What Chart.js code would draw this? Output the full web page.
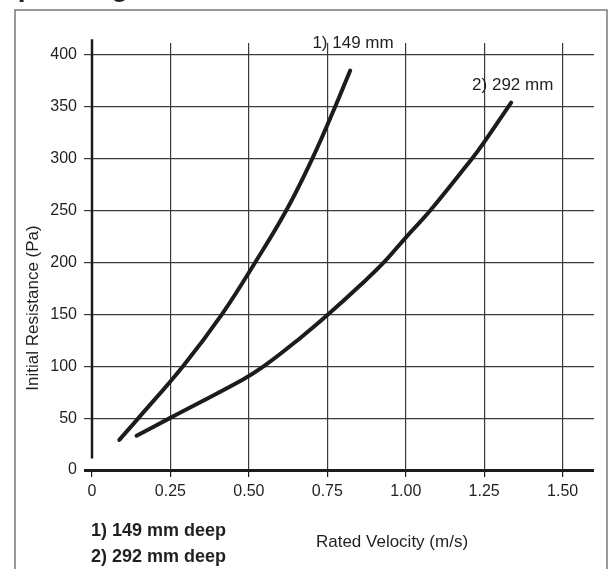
<!DOCTYPE html>
<html>
<head>
<meta charset="utf-8">
<script src="https://cdn.jsdelivr.net/npm/chart.js@4"></script>
<style>html,body{margin:0;padding:0;background:#fff}canvas{display:block}</style>
</head>
<body>
<canvas id="c" width="609" height="569"></canvas>
<script>
// ticks
const xTicks = [0, 0.25, 0.5, 0.75, 1, 1.25, 1.5];
const xTickLabels = ["0", "0.25", "0.50", "0.75", "1.00", "1.25", "1.50"];
const yTicks = [0, 50, 100, 150, 200, 250, 300, 350, 400];

// 1) 149 mm deep
const v149 = [0.087, 0.148, 0.29, 0.414, 0.52, 0.619, 0.702, 0.775, 0.823];
const p149 = [29, 50, 100, 150, 200, 250, 300, 350, 385];
// 2) 292 mm deep
const v292 = [0.142, 0.248, 0.48, 0.548, 0.663, 0.753, 0.855, 0.93, 1.0, 1.078, 1.211, 1.25, 1.336];
const p292 = [33, 50, 87, 100, 127, 150, 178, 200, 224, 250, 300, 316, 354];

const curveNames = ["1) 149 mm", "2) 292 mm"];
const curveNameAt = [[0.832, 411], [1.341, 371]];
const legendLines = ["1) 149 mm deep", "2) 292 mm deep"];
const xTitle = "Rated Velocity (m/s)";
const yTitle = "Initial Resistance (Pa)";
const heading = "Operating";

const INK = "#231f20", FONT = "'Liberation Sans', Arial, Helvetica, sans-serif";
const pts = (xs, ys) => xs.map((x, i) => ({ x, y: ys[i] }));
const line = (data) => ({ data, showLine: true, borderColor: "#1c1c1c", borderWidth: 4, pointRadius: 0,
  tension: 0.4, borderCapStyle: "round", borderJoinStyle: "round", fill: false });

const decor = {
  id: "decor",
  afterDraw(ch) {
    const c = ch.ctx, x = ch.scales.x, y = ch.scales.y;
    c.save();
    // outer frame
    c.strokeStyle = "#7a7a7a"; c.lineWidth = 1.5;
    c.strokeRect(15, 10, 592, 600);
    // heading sits above the page edge, only descenders show
    c.fillStyle = INK; c.font = "bold 28px " + FONT; c.textBaseline = "alphabetic"; c.textAlign = "left";
    c.fillText(heading, -4, -4);
    // y axis line
    c.strokeStyle = "#1c1c1c"; c.lineWidth = 2.5;
    c.beginPath(); c.moveTo(x.getPixelForValue(0), y.getPixelForValue(415)); c.lineTo(x.getPixelForValue(0), y.getPixelForValue(11)); c.stroke();
    // curve names
    c.font = "17px " + FONT; c.textAlign = "center"; c.textBaseline = "middle";
    curveNames.forEach((t, i) => c.fillText(t, x.getPixelForValue(curveNameAt[i][0]), y.getPixelForValue(curveNameAt[i][1])));
    // axis titles
    c.fillText(xTitle, 392, 542);
    c.save(); c.translate(33, 308); c.rotate(-Math.PI / 2); c.fillText(yTitle, 0, 0); c.restore();
    // key
    c.font = "bold 18px " + FONT; c.textAlign = "left";
    legendLines.forEach((t, i) => c.fillText(t, 91, 531 + i * 26));
    c.restore();
  }
};

new Chart(document.getElementById("c"), {
  type: "scatter",
  data: { datasets: [line(pts(v149, p149)), line(pts(v292, p292))] },
  options: {
    responsive: false, animation: false, devicePixelRatio: 1,
    layout: { padding: { top: 43, right: 15, left: 0, bottom: 0 } },
    plugins: { legend: { display: false }, tooltip: { enabled: false } },
    scales: {
      x: {
        type: "linear", min: 0, max: 1.6, border: { display: false },
        afterBuildTicks: (s) => { s.ticks = xTicks.map((v) => ({ value: v })); },
        afterFit: (s) => { s.height = 99; },
        grid: { color: (c) => c.tick && c.tick.value === 0 ? "rgba(0,0,0,0)" : "#3a3a3a", lineWidth: 1.2, tickColor: "#1c1c1c", tickLength: 7 },
        ticks: { color: INK, font: { family: FONT, size: 16 }, padding: 5, maxRotation: 0, callback: (v, i) => xTickLabels[i] }
      },
      y: {
        type: "linear", min: 0, max: 411.5, border: { display: false },
        afterBuildTicks: (s) => { s.ticks = yTicks.map((v) => ({ value: v })); },
        afterFit: (s) => { s.width = 92; },
        grid: { color: (c) => c.tick && c.tick.value === 0 ? "#1c1c1c" : "#3a3a3a", lineWidth: (c) => c.tick && c.tick.value === 0 ? 3 : 1.2, tickLength: 8 },
        ticks: { color: INK, font: { family: FONT, size: 16 }, padding: 7, callback: (v) => String(v) }
      }
    }
  },
  plugins: [decor]
});
</script>
</body>
</html>
